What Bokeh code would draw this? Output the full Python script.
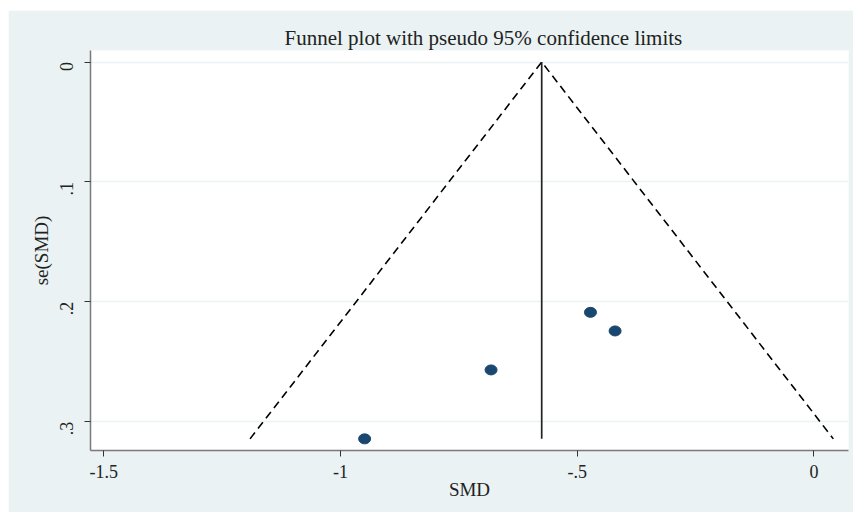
import numpy as np
from bokeh.plotting import figure
from bokeh.models import Range1d, FixedTicker, ColumnDataSource
from bokeh.embed import file_html
from bokeh.resources import INLINE

smd = [-0.472, -0.420, -0.682, -0.949]
se_smd = [0.2088, 0.2243, 0.2568, 0.3143]
pooled = -0.575
z95 = 1.96
x_ticks = [-1.5, -1.0, -0.5, 0.0]
x_tick_labels = ["-1.5", "-1", "-.5", "0"]
y_ticks = [0.0, 0.1, 0.2, 0.3]
y_tick_labels = ["0", ".1", ".2", ".3"]

BG = "#EAF2F3"
SERIF = "Liberation Serif"

p = figure(width=845, height=502, output_backend="svg", toolbar_location=None,
           x_range=Range1d(-1.528, 0.073), y_range=Range1d(0.324, -0.0096),
           min_border_left=82, min_border_top=40, min_border_right=5, min_border_bottom=62)
p.margin = (10, 0, 0, 8)
p.border_fill_color = BG
p.background_fill_color = "white"
p.outline_line_color = None

p.title.text = "Funnel plot with pseudo 95% confidence limits"
p.title.text_font = SERIF
p.title.text_font_size = "21px"
p.title.text_font_style = "normal"
p.title.align = "left"
p.title.text_color = "#222222"
p.title.offset = 194
p.title.standoff = 2

sem = max(se_smd)
p.line([pooled - z95 * sem, pooled, pooled + z95 * sem], [sem, 0, sem],
       line_color="black", line_width=1.6, line_dash="8 5")
p.line([pooled, pooled], [0, sem], line_color="#222222", line_width=1.7)

src = ColumnDataSource(dict(x=smd, y=se_smd))
p.ellipse("x", "y", width=12, height=10, width_units="screen", height_units="screen",
          source=src, fill_color="#1a476f", line_color="#1a476f")

p.xaxis.ticker = FixedTicker(ticks=x_ticks)
p.xaxis.major_label_overrides = {t: l for t, l in zip(x_ticks, x_tick_labels)}
p.yaxis.ticker = FixedTicker(ticks=y_ticks)
p.yaxis.major_label_overrides = {t: l for t, l in zip(y_ticks, y_tick_labels)}
p.yaxis.major_label_orientation = np.pi / 2

for ax in (p.xaxis[0], p.yaxis[0]):
    ax.axis_line_color = "#7a7a7a"
    ax.axis_line_width = 1.5
    ax.major_tick_line_color = "#333333"
    ax.major_tick_out = 6
    ax.major_tick_in = 0
    ax.minor_tick_line_color = None
    ax.major_label_text_font = SERIF
    ax.major_label_text_font_size = "18px"
    ax.major_label_text_color = "#222222"
    ax.axis_label_text_font = SERIF
    ax.axis_label_text_font_size = "19px"
    ax.axis_label_text_font_style = "normal"
    ax.axis_label_text_color = "#222222"

p.xaxis.axis_label = "SMD"
p.yaxis.axis_label = "se(SMD)"
p.xaxis.major_label_standoff = 8
p.xaxis.axis_label_standoff = -2
p.yaxis.major_label_standoff = 18
p.yaxis.axis_label_standoff = -1

p.xgrid.grid_line_color = None
p.ygrid.grid_line_color = BG
p.ygrid.grid_line_width = 1.5

open("out.html", "w").write(file_html(p, INLINE))
